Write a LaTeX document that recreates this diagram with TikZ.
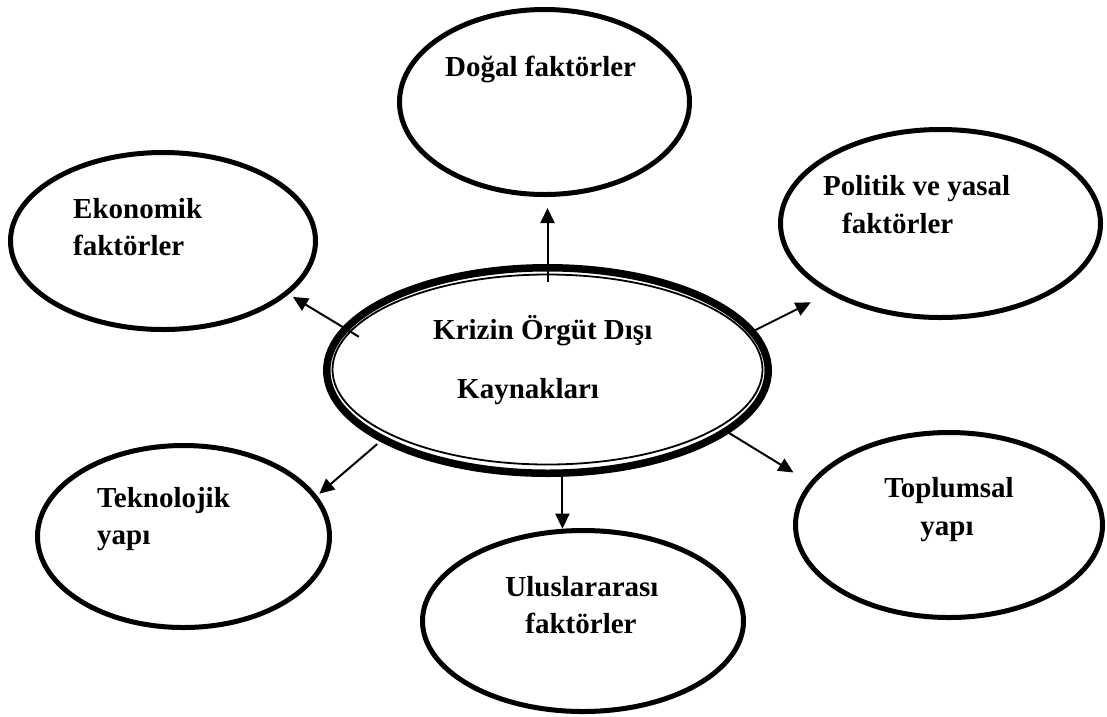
\documentclass[tikz,border=0pt]{standalone}
\usepackage{fontspec}
\setmainfont{Liberation Serif}
\usetikzlibrary{shapes.geometric,arrows.meta}
\begin{document}
\begin{tikzpicture}[x=1pt,y=-1pt,
  bubble/.style={draw,ellipse,line width=5pt,inner sep=0pt},
  lbl/.style={font=\fontsize{29}{35}\selectfont\bfseries,inner sep=0pt},
  arr/.style={line width=2pt,-{Triangle[length=15pt,width=14pt]}}]
\fill[white] (0,0) rectangle (1107,716);
\useasboundingbox (0,0) rectangle (1107,716);

% central ellipse: thick outer line with a thin inner line
\node[draw,ellipse,line width=7.5pt,inner sep=0pt,minimum width=441.5pt,minimum height=205.5pt] (core) at (547.5,370.5) {};
\node[draw,ellipse,line width=1.8pt,inner sep=0pt,minimum width=430pt,minimum height=190pt] (coreinner) at (547.5,369.5) {};

% surrounding factor ellipses
\node[bubble,minimum width=290pt,minimum height=185pt] (dogal) at (544.5,102) {};
\node[bubble,minimum width=305pt,minimum height=177pt] (eko) at (163,241) {};
\node[bubble,minimum width=320pt,minimum height=188pt] (pol) at (940.5,223.5) {};
\node[bubble,minimum width=307pt,minimum height=185pt] (toplum) at (949,525) {};
\node[bubble,minimum width=321pt,minimum height=181pt] (ulus) at (583,621) {};
\node[bubble,minimum width=292pt,minimum height=182pt] (tek) at (183.5,536.5) {};

% connectors from the centre outwards
\draw[arr,shorten <=-18pt,shorten >=11pt] (core.90) -- (core.90 |- dogal.south);
\draw[arr,shorten <=-19pt,shorten >=5pt] (core.168) -- (eko.-23);
\draw[arr,shorten <=-2pt,shorten >=20pt] (core.11.3) -- (pol.212.8);
\draw[arr,shorten >=19pt] (core.-19.6) -- (toplum.163.1);
\draw[arr] (core.-82.2) -- (core.-82.2 |- ulus.102.8);
\draw[arr,shorten <=4pt,shorten >=3pt] (core.203.4) -- (tek.17.9);

% labels
\node[lbl,anchor=base west] (dogalt) at (445,76) {Doğal faktörler};
\node[lbl,anchor=base west] (ekot1) at (73,218) {Ekonomik};
\node[lbl,anchor=base west] (ekot2) at (73,255) {faktörler};
\node[lbl,anchor=base west] (polt1) at (823,195) {Politik ve yasal};
\node[lbl,anchor=base west] (polt2) at (842,233) {faktörler};
\node[lbl,anchor=base] (toplumt1) at (949,497) {Toplumsal};
\node[lbl,anchor=base] (toplumt2) at (947,535) {yapı};
\node[lbl,anchor=base] (ulust1) at (582,596) {Uluslararası};
\node[lbl,anchor=base] (ulust2) at (581,633) {faktörler};
\node[lbl,anchor=base west] (tekt1) at (97,507) {Teknolojik};
\node[lbl,anchor=base west] (tekt2) at (97,544) {yapı};
\node[lbl,anchor=base west] (coret1) at (433,339) {Krizin Örgüt Dışı};
\node[lbl,anchor=base west] (coret2) at (457,398) {Kaynakları};
\end{tikzpicture}
\end{document}
